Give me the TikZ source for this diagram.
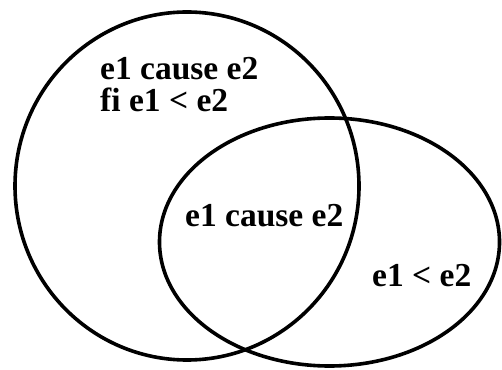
\documentclass[tikz,border=0pt]{standalone}
\usepackage{fontspec}
\setmainfont{Liberation Serif}
\begin{document}
\begin{tikzpicture}[x=1pt,y=1pt,
  venn/.style={draw=black,line width=3.6pt},
  lbl/.style={font=\fontsize{33.5}{33}\selectfont\bfseries,inner sep=0pt,anchor=base west}]
\useasboundingbox (0,0) rectangle (502,369);
\draw[venn] (187,183) ellipse [x radius=172, y radius=174];
\draw[venn] (329.5,127) ellipse [x radius=170, y radius=124];
\node[lbl] (a1) at (100,289) {e1 cause e2};
\node[lbl] (a2) at (100,257) {fi e1 < e2};
\node[lbl] (b) at (185,142) {e1 cause e2};
\node[lbl] (c) at (372,82) {e1 < e2};
\end{tikzpicture}
\end{document}
